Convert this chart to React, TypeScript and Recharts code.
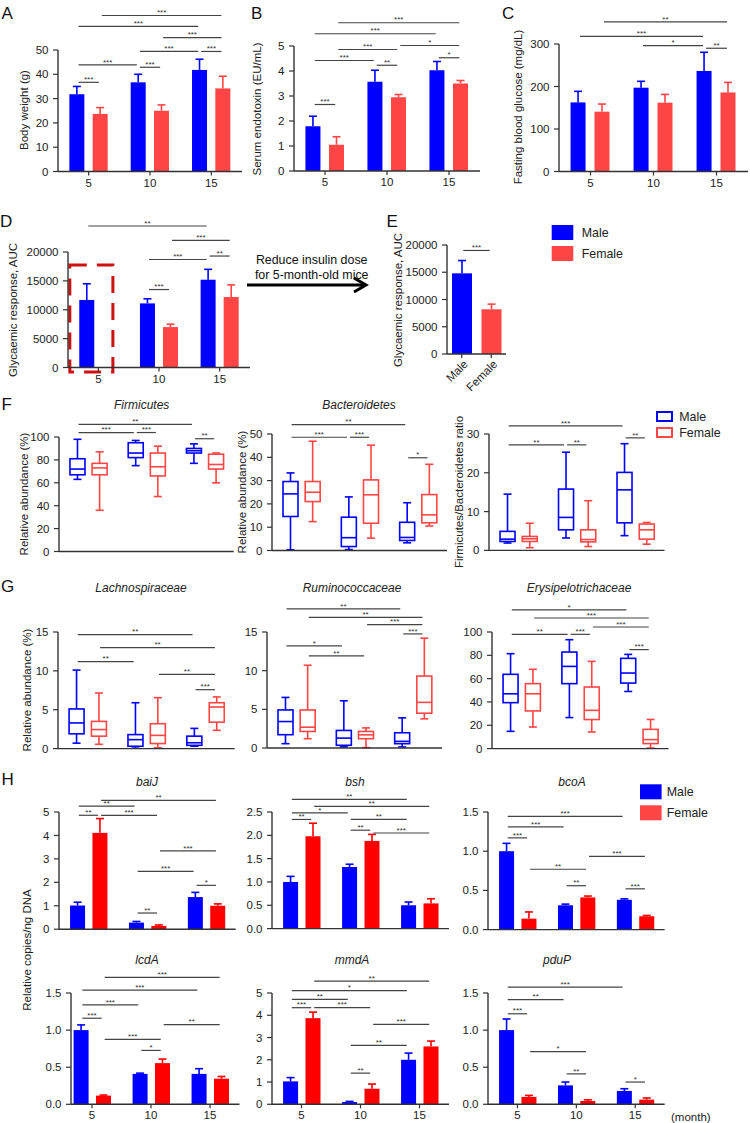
import React from "react";
import { BarChart, Bar, XAxis, YAxis, ReferenceLine, ReferenceArea } from "recharts";

const FONT = "'Liberation Sans', Arial, Helvetica, sans-serif";
const BLUE = "#0000ff";
const PINK = "#ff4545";
const RED = "#ff0000";
const INK = "#333333";
const TXT = "#222222";

type Sig = [string, string, number, string];
type Five = number[]; // min, q1, median, q3, max

const months = ["5", "10", "15"];
const sexes = ["Male", "Female"];

// A body weight (g)
const bwM = [31.8, 36.7, 41.8];
const bwMErr = [3.2, 3.3, 4.4];
const bwF = [23.7, 25.0, 34.2];
const bwFErr = [2.6, 2.4, 5.0];
const bwSig: Sig[] = [["F5", "F15", 64.2, "***"], ["M5", "M15", 59.7, "***"], ["F10", "F15", 55.1, "***"], ["M10", "M15", 49.4, "***"], ["M15", "F15", 49.4, "***"], ["M5", "M10", 43.9, "***"], ["M10", "F10", 42.9, "***"], ["M5", "F5", 36.7, "***"]];

// B serum endotoxin (EU/mL)
const etM = [1.79, 3.57, 4.03];
const etMErr = [0.4, 0.46, 0.35];
const etF = [1.05, 2.95, 3.5];
const etFErr = [0.32, 0.11, 0.12];
const etSig: Sig[] = [["F5", "F15", 5.93, "***"], ["M5", "M15", 5.49, "***"], ["F5", "F10", 4.86, "***"], ["F10", "F15", 5.02, "*"], ["M5", "M10", 4.42, "***"], ["M10", "F10", 4.23, "**"], ["M15", "F15", 4.53, "*"], ["M5", "F5", 2.66, "***"]];

// C fasting blood glucose (mg/dL)
const glM = [162.6, 197.2, 236.5];
const glMErr = [26, 15, 44];
const glF = [140.7, 161.9, 186.1];
const glFErr = [18, 19.5, 23.5];
const glSig: Sig[] = [["F5", "F15", 352, "**"], ["M5", "M15", 318, "***"], ["M10", "M15", 296, "*"], ["M15", "F15", 290, "**"]];

// D glycaemic response AUC
const aucM = [11700, 11100, 15200];
const aucMErr = [2800, 800, 1800];
const aucF = [null, 7000, 12200];
const aucFErr = [0, 500, 2100];
const aucSig: Sig[] = [["M5", "M15", 24500, "**"], ["F10", "F15", 22000, "***"], ["M10", "M15", 18700, "***"], ["M15", "F15", 19300, "**"], ["M10", "F10", 13500, "***"]];

// E reduced insulin dose, 5-month-old
const aucE = [14800, 8200];
const aucEErr = [2350, 950];

// F phyla (box: min, q1, median, q3, max)
const firmM: Five[] = [[63, 67, 72, 81, 98], [75, 82, 86, 95, 97], [77, 86, 88, 90, 94]];
const firmF: Five[] = [[36, 67, 73, 77, 87], [48, 66, 74, 86, 92], [60, 72, 76, 85, 86]];
const firmSig: Sig[] = [["M5", "M15", 111, "**"], ["M5", "M10", 103.9, "***"], ["M10", "F10", 103.9, "***"], ["M15", "F15", 98.5, "**"]];

const bactM: Five[] = [[0.3, 14.6, 24.3, 29.6, 33.3], [0.4, 1.7, 5.5, 14.3, 23], [3.3, 4.3, 5.6, 12.1, 20.5]];
const bactF: Five[] = [[12.4, 21, 25, 29.6, 46.9], [5.3, 11.7, 23.9, 30.3, 45.2], [10.5, 11.9, 15.3, 24, 37]];
const bactSig: Sig[] = [["M5", "M15", 54, "**"], ["M5", "M10", 48.6, "***"], ["M10", "F10", 48.6, "***"], ["M15", "F15", 39.8, "*"]];

const ratioM: Five[] = [[1.9, 2.3, 2.9, 4.9, 14.5], [3.2, 5.3, 8.5, 15.8, 25.3], [3.8, 7.1, 15.6, 20.1, 27.5]];
const ratioF: Five[] = [[0.7, 2.3, 3.0, 3.6, 7], [1, 2.2, 2.8, 5.3, 12.8], [1.6, 2.9, 5.3, 6.8, 7.2]];
const ratioSig: Sig[] = [["M5", "M15", 32.1, "***"], ["M5", "M10", 27.2, "**"], ["M10", "F10", 27.2, "**"], ["M15", "F15", 29, "**"]];

// G families
const lachM: Five[] = [[0.7, 1.9, 3.3, 5.1, 10.1], [0.05, 0.3, 1.15, 1.8, 5.9], [0.3, 0.42, 0.75, 1.6, 2.6]];
const lachF: Five[] = [[0.55, 1.6, 2.45, 3.5, 7.15], [0.1, 0.65, 1.7, 3.2, 6.55], [2.35, 3.4, 5.35, 5.9, 6.65]];
const lachSig: Sig[] = [["M5", "M15", 14.65, "**"], ["F5", "F15", 12.98, "**"], ["M5", "M10", 11.2, "**"], ["F10", "F15", 9.55, "**"], ["M15", "F15", 7.58, "***"]];

const rumiM: Five[] = [[0.56, 1.72, 3.42, 4.92, 6.54], [0.15, 0.35, 1.28, 2.27, 6.1], [0.13, 0.56, 0.86, 1.97, 3.9]];
const rumiF: Five[] = [[1.2, 2.14, 2.69, 4.92, 10.7], [0.05, 1.2, 1.7, 2.14, 2.6], [3.77, 4.5, 5.9, 9.3, 14.2]];
const rumiSig: Sig[] = [["M5", "M15", 18.0, "**"], ["F5", "F15", 16.9, "**"], ["F10", "F15", 15.95, "***"], ["M15", "F15", 14.75, "***"], ["M5", "M10", 13.2, "*"], ["F5", "F10", 11.9, "**"]];

const erysM: Five[] = [[14.8, 39.4, 47, 63.7, 81.4], [26.6, 55.7, 70.5, 82.8, 93.4], [49, 56.2, 64.8, 77.4, 80.8]];
const erysF: Five[] = [[18.5, 32.3, 47, 55.7, 68], [14.3, 24.9, 32.8, 52.8, 74.8], [0.5, 4.3, 7.7, 16.5, 25]];
const erysSig: Sig[] = [["M5", "M15", 119, "*"], ["F5", "F15", 112, "***"], ["F10", "F15", 104.3, "***"], ["M5", "M10", 98, "**"], ["M10", "F10", 98, "***"], ["M15", "F15", 84.9, "***"]];

// H genes, relative copies/ng DNA
const baiM = [1.01, 0.28, 1.37];
const baiMErr = [0.14, 0.05, 0.2];
const baiF = [4.11, 0.14, 1.0];
const baiFErr = [0.61, 0.04, 0.08];
const baiSig: Sig[] = [["F5", "F15", 5.5, "**"], ["M5", "M10", 5.25, "**"], ["M5", "F5", 4.86, "**"], ["F5", "F10", 4.86, "***"], ["F10", "F15", 3.34, "***"], ["M10", "M15", 2.47, "***"], ["M15", "F15", 1.87, "*"], ["M10", "F10", 0.69, "**"]];

const bshM = [1.0, 1.32, 0.5];
const bshMErr = [0.12, 0.06, 0.07];
const bshF = [1.98, 1.88, 0.54];
const bshFErr = [0.28, 0.14, 0.1];
const bshSig: Sig[] = [["M5", "M15", 2.77, "**"], ["F5", "F15", 2.62, "**"], ["M5", "M10", 2.48, "*"], ["M5", "F5", 2.34, "**"], ["M10", "M15", 2.34, "**"], ["M10", "F10", 2.11, "**"], ["F10", "F15", 2.05, "***"]];

const bcoM = [1.0, 0.31, 0.38];
const bcoMErr = [0.1, 0.015, 0.012];
const bcoF = [0.14, 0.41, 0.17];
const bcoFErr = [0.085, 0.018, 0.01];
const bcoSig: Sig[] = [["M5", "M15", 1.445, "***"], ["M5", "M10", 1.31, "***"], ["M5", "F5", 1.17, "***"], ["F10", "F15", 0.935, "***"], ["F5", "F10", 0.77, "**"], ["M10", "F10", 0.56, "**"], ["M15", "F15", 0.52, "***"]];

const lcdM = [1.0, 0.41, 0.41];
const lcdMErr = [0.07, 0.01, 0.07];
const lcdF = [0.117, 0.555, 0.345];
const lcdFErr = [0.008, 0.055, 0.03];
const lcdSig: Sig[] = [["F5", "F15", 1.71, "***"], ["M5", "M15", 1.54, "***"], ["M5", "M10", 1.34, "***"], ["M5", "F5", 1.16, "***"], ["F10", "F15", 1.075, "**"], ["F5", "F10", 0.874, "***"], ["M10", "F10", 0.726, "*"]];

const mmdM = [1.03, 0.1, 2.0];
const mmdMErr = [0.17, 0.03, 0.3];
const mmdF = [3.87, 0.7, 2.6];
const mmdFErr = [0.27, 0.21, 0.24];
const mmdSig: Sig[] = [["F5", "F15", 5.53, "**"], ["M5", "M15", 5.11, "*"], ["M5", "M10", 4.71, "**"], ["M5", "F5", 4.34, "***"], ["F5", "F10", 4.34, "***"], ["F10", "F15", 3.59, "***"], ["M10", "M15", 2.65, "**"], ["M10", "F10", 1.4, "**"]];

const pduM = [1.0, 0.255, 0.18];
const pduMErr = [0.15, 0.045, 0.03];
const pduF = [0.1, 0.045, 0.063];
const pduFErr = [0.02, 0.015, 0.022];
const pduSig: Sig[] = [["M5", "M15", 1.58, "***"], ["M5", "M10", 1.41, "**"], ["M5", "F5", 1.22, "***"], ["F5", "F10", 0.71, "*"], ["M10", "F10", 0.41, "**"], ["M15", "F15", 0.3, "*"]];

// ---------- helpers ----------
const OFF = 0.19;
const xOf = (code: string) => {
  const i = months.indexOf(code.slice(1));
  return i + 0.5 + (code[0] === "M" ? -OFF : OFF);
};
const sigXY = (s: Sig[]): [number, number, number, string][] => s.map((d) => [xOf(d[0]), xOf(d[1]), d[2], d[3]]);

function barRows(m: (number | null)[], me: number[], f: (number | null)[], fe: number[]) {
  const rows: any[] = [];
  months.forEach((mo, i) => {
    if (m[i] != null) rows.push({ x: xOf("M" + mo), v: m[i], e: me[i], sex: "M" });
    if (f[i] != null) rows.push({ x: xOf("F" + mo), v: f[i], e: fe[i], sex: "F" });
  });
  return rows;
}

function boxRows(m: Five[], f: Five[]) {
  const rows: any[] = [];
  months.forEach((mo, i) => {
    const add = (s: string, b: Five) =>
      rows.push({ x: xOf(s + mo), box: [b[1], b[3]], min: b[0], med: b[2], max: b[4], sex: s });
    add("M", m[i]);
    add("F", f[i]);
  });
  return rows;
}

const errBar = (fem: string) => (p: any) => {
  const { x, y, width, height, payload } = p;
  const col = payload.sex === "M" ? BLUE : fem;
  const k = payload.v ? height / payload.v : 0;
  const ty = y - payload.e * k;
  const cx = x + width / 2;
  return (
    <g>
      <line x1={cx} x2={cx} y1={y} y2={ty} stroke={col} strokeWidth={1.6} />
      <line x1={cx - 4} x2={cx + 4} y1={ty} y2={ty} stroke={col} strokeWidth={1.6} />
      <rect x={x} y={y} width={width} height={height} fill={col} />
    </g>
  );
};

const boxShape = (p: any) => {
  const { x, y, width, height, payload } = p;
  const [q1, q3] = payload.box;
  const k = height / (q3 - q1);
  const yv = (v: number) => y + (q3 - v) * k;
  const col = payload.sex === "M" ? BLUE : PINK;
  const cx = x + width / 2;
  return (
    <g stroke={col} strokeWidth={1.6} fill="none">
      <line x1={cx} x2={cx} y1={yv(payload.max)} y2={y} />
      <line x1={cx - 4} x2={cx + 4} y1={yv(payload.max)} y2={yv(payload.max)} />
      <line x1={cx} x2={cx} y1={y + height} y2={yv(payload.min)} />
      <line x1={cx - 4} x2={cx + 4} y1={yv(payload.min)} y2={yv(payload.min)} />
      <rect x={x} y={y} width={width} height={height} fill="#fff" />
      <line x1={x} x2={x + width} y1={yv(payload.med)} y2={yv(payload.med)} />
    </g>
  );
};

const sigShape = (label: string) => (p: any) => (
  <g>
    <line x1={p.x1 + 1.5} x2={p.x2 - 1.5} y1={p.y1} y2={p.y2} stroke="#444" strokeWidth={1.2} />
    <text x={(p.x1 + p.x2) / 2} y={p.y1 - 0.3} textAnchor="middle" fontSize={8} fill={INK} fontFamily={FONT}>
      {label}
    </text>
  </g>
);

const sexTick = (p: any) => (
  <text
    transform={`translate(${p.x + 4} ${p.y + 1}) rotate(-45)`}
    textAnchor="end"
    dy="0.35em"
    fontSize={11.5}
    fill={TXT}
    fontFamily={FONT}
  >
    {sexes[Math.floor(p.payload.value)]}
  </text>
);

type Frame = { ax: number; end: number; top: number; zero: number; xMin?: number; xMax?: number };

function Panel(props: {
  f: Frame;
  rows: any[];
  dataKey: string;
  shape: any;
  barSize?: number;
  yMax: number;
  yTicks: number[];
  yFmt?: (v: number) => string;
  xTicks?: number[];
  labels?: boolean;
  xTick?: any;
  xH?: number;
  sigs: [number, number, number, string][];
  room: number;
  children?: React.ReactNode;
}) {
  const { f } = props;
  const YW = 50;
  const MR = 2;
  const XH = props.xH ?? (props.labels ? 20 : 8);
  const w = f.end - f.ax + YW + MR;
  const h = f.zero - f.top + props.room + XH + 2;
  const tickStyle = { fontSize: 11.5, fill: TXT, fontFamily: FONT };
  return (
    <div style={{ position: "absolute", left: f.ax - YW, top: f.top - props.room }}>
      <BarChart width={w} height={h} data={props.rows} margin={{ top: props.room, right: MR, bottom: 2, left: 0 }}>
        <XAxis
          type="number"
          dataKey="x"
          domain={[f.xMin ?? 0, f.xMax ?? 3]}
          ticks={props.xTicks ?? [0.5, 1.5, 2.5]}
          interval={0}
          height={XH}
          axisLine={{ stroke: INK, strokeWidth: 1.4 }}
          tickLine={{ stroke: INK, strokeWidth: 1.2 }}
          tickSize={4}
          tickMargin={3}
          tick={props.xTick ?? (props.labels ? tickStyle : false)}
          tickFormatter={(v: number) => months[Math.floor(v)]}
        />
        <YAxis
          type="number"
          domain={[0, props.yMax]}
          ticks={props.yTicks}
          interval={0}
          width={YW}
          axisLine={{ stroke: INK, strokeWidth: 1.4 }}
          tickLine={{ stroke: INK, strokeWidth: 1.2 }}
          tickSize={5}
          tickMargin={4.5}
          tick={tickStyle}
          tickFormatter={props.yFmt ?? ((v: number) => String(v))}
        />
        <Bar dataKey={props.dataKey} barSize={props.barSize ?? 15} shape={props.shape} isAnimationActive={false} />
        {props.children}
        {props.sigs.map((s, i) => (
          <ReferenceLine
            key={i}
            segment={[{ x: s[0], y: s[2] }, { x: s[1], y: s[2] }]}
            ifOverflow="visible"
            shape={sigShape(s[3])}
          />
        ))}
      </BarChart>
    </div>
  );
}

const dec1 = (v: number) => v.toFixed(1);

function Overlay() {
  const letter = (ch: string, x: number, y: number) => (
    <text x={x} y={y} fontSize={17} fill="#111">{ch}</text>
  );
  const yLab = (s: string, x: number, y: number) => (
    <text transform={`translate(${x} ${y}) rotate(-90)`} textAnchor="middle" dominantBaseline="central" fontSize={11.5} fill={TXT}>{s}</text>
  );
  const title = (s: string, x: number, y: number) => (
    <text x={x} y={y} textAnchor="middle" fontStyle="italic" fontSize={12} fill={TXT}>{s}</text>
  );
  const legend = (x: number, y: number, tx: number, filled: boolean, fem: string) => (
    <g>
      {filled ? (
        <>
          <rect x={x} y={y} width={21.6} height={15} fill={BLUE} />
          <rect x={x} y={y + 21} width={21.6} height={15} fill={fem} />
        </>
      ) : (
        <>
          <rect x={x} y={y} width={15} height={9} fill="none" stroke={BLUE} strokeWidth={2} />
          <rect x={x} y={y + 16} width={15} height={9} fill="none" stroke={PINK} strokeWidth={2} />
        </>
      )}
      <text x={tx} y={filled ? y + 12 : y + 8.5} fontSize={12.4} fill={TXT}>Male</text>
      <text x={tx} y={filled ? y + 33 : y + 24.5} fontSize={12.4} fill={TXT}>Female</text>
    </g>
  );
  return (
    <svg width={750} height={1123} style={{ position: "absolute", left: 0, top: 0 }} fontFamily={FONT}>
      {letter("A", 1.5, 18.5)}
      {letter("B", 251, 18.5)}
      {letter("C", 502, 18.5)}
      {letter("D", 0, 227)}
      {letter("E", 386.5, 227)}
      {letter("F", 1.5, 410)}
      {letter("G", 1, 592)}
      {letter("H", 1.5, 785)}

      {yLab("Body weight (g)", 24, 110)}
      {yLab("Serum endotoxin (EU/mL)", 257, 109)}
      {yLab("Fasting blood glucose (mg/dL)", 518, 107)}
      {yLab("Glycaemic response, AUC", 13, 310)}
      {yLab("Glycaemic response, AUC", 398, 300)}
      {yLab("Relative abundance (%)", 24, 494)}
      {yLab("Relative abundance (%)", 242, 492)}
      {yLab("Firmicutes/Bacteroidetes ratio", 459, 492)}
      {yLab("Relative abundance (%)", 27, 690)}
      {yLab("Relative copies/ng DNA", 27, 950)}

      {title("Firmicutes", 141.7, 409)}
      {title("Bacteroidetes", 359, 409)}
      {title("Lachnospiraceae", 141, 592)}
      {title("Ruminococcaceae", 352, 592)}
      {title("Erysipelotrichaceae", 579, 592)}
      {title("baiJ", 147, 786)}
      {title("bsh", 355, 786)}
      {title("bcoA", 572, 786)}
      {title("lcdA", 147, 963.5)}
      {title("mmdA", 352, 963.5)}
      {title("pduP", 557, 963.5)}

      {legend(551.7, 225, 581.7, true, PINK)}
      {legend(657, 412, 679.3, false, PINK)}
      {legend(640, 784.3, 666.7, true, PINK)}

      <text x={311.7} y={264.3} textAnchor="middle" fontSize={12.4} fill="#111">Reduce insulin dose</text>
      <text x={311.7} y={278.6} textAnchor="middle" fontSize={12.4} fill="#111">for 5-month-old mice</text>
      <line x1={247} x2={365} y1={285} y2={285} stroke="#000" strokeWidth={3} />
      <polyline points="354,278 366,285 354,292" fill="none" stroke="#000" strokeWidth={3} />

      <text x={671} y={1120.5} fontSize={11.5} fill={TXT}>(month)</text>
    </svg>
  );
}

export default function App() {
  return (
    <div style={{ position: "absolute", left: 0, top: 0, width: 750, height: 1123, overflow: "hidden", background: "#fff", fontFamily: FONT }}>
      <Overlay />

      <Panel f={{ ax: 58, end: 242, top: 49.5, zero: 171 }} rows={barRows(bwM, bwMErr, bwF, bwFErr)} dataKey="v" shape={errBar(PINK)}
        yMax={50} yTicks={[0, 10, 20, 30, 40, 50]} labels sigs={sigXY(bwSig)} room={46} />
      <Panel f={{ ax: 294, end: 480, top: 46, zero: 171 }} rows={barRows(etM, etMErr, etF, etFErr)} dataKey="v" shape={errBar(PINK)}
        yMax={5} yTicks={[0, 1, 2, 3, 4, 5]} labels sigs={sigXY(etSig)} room={40} />
      <Panel f={{ ax: 559, end: 748, top: 43.5, zero: 171 }} rows={barRows(glM, glMErr, glF, glFErr)} dataKey="v" shape={errBar(PINK)}
        yMax={300} yTicks={[0, 100, 200, 300]} labels sigs={sigXY(glSig)} room={36} />

      <Panel f={{ ax: 68, end: 250, top: 252, zero: 367.5 }} rows={barRows(aucM, aucMErr, aucF, aucFErr)} dataKey="v" shape={errBar(PINK)}
        yMax={20000} yTicks={[0, 5000, 10000, 15000, 20000]} labels sigs={sigXY(aucSig)} room={34}>
        <ReferenceArea x1={0.03} x2={0.74} y1={-800} y2={17750} ifOverflow="visible" fill="none" fillOpacity={0}
          stroke="#cc1111" strokeWidth={3} strokeDasharray="17 10" />
      </Panel>
      <Panel f={{ ax: 446.7, end: 505.7, top: 245.3, zero: 354.3, xMax: 2 }}
        rows={sexes.map((s, i) => ({ x: i + 0.5, v: aucE[i], e: aucEErr[i], sex: s[0] }))}
        dataKey="v" shape={errBar(PINK)} barSize={20} yMax={20000} yTicks={[0, 5000, 10000, 15000, 20000]}
        xTicks={[0.5, 1.5]} xTick={sexTick} xH={46} sigs={[[0.5, 1.5, 19000, "***"]]} room={30} />

      <Panel f={{ ax: 59.3, end: 234, top: 436.5, zero: 551 }} rows={boxRows(firmM, firmF)} dataKey="box" shape={boxShape}
        yMax={100} yTicks={[0, 20, 40, 60, 80, 100]} sigs={sigXY(firmSig)} room={24} />
      <Panel f={{ ax: 272, end: 447, top: 433.5, zero: 550 }} rows={boxRows(bactM, bactF)} dataKey="box" shape={boxShape}
        yMax={50} yTicks={[0, 10, 20, 30, 40, 50]} sigs={sigXY(bactSig)} room={24} />
      <Panel f={{ ax: 488.5, end: 664, top: 434.3, zero: 550.7 }} rows={boxRows(ratioM, ratioF)} dataKey="box" shape={boxShape}
        yMax={30} yTicks={[0, 10, 20, 30]} sigs={sigXY(ratioSig)} room={24} />

      <Panel f={{ ax: 58.3, end: 235, top: 631.7, zero: 748.3 }} rows={boxRows(lachM, lachF)} dataKey="box" shape={boxShape}
        yMax={15} yTicks={[0, 5, 10, 15]} sigs={sigXY(lachSig)} room={24} />
      <Panel f={{ ax: 267, end: 442, top: 631.7, zero: 747.7 }} rows={boxRows(rumiM, rumiF)} dataKey="box" shape={boxShape}
        yMax={15} yTicks={[0, 5, 10, 15]} sigs={sigXY(rumiSig)} room={34} />
      <Panel f={{ ax: 492, end: 668.5, top: 631.7, zero: 748.3 }} rows={boxRows(erysM, erysF)} dataKey="box" shape={boxShape}
        yMax={100} yTicks={[0, 20, 40, 60, 80, 100]} sigs={sigXY(erysSig)} room={34} />

      <Panel f={{ ax: 59.3, end: 236, top: 812.3, zero: 929.5 }} rows={barRows(baiM, baiMErr, baiF, baiFErr)} dataKey="v" shape={errBar(RED)}
        yMax={5} yTicks={[0, 1, 2, 3, 4, 5]} sigs={sigXY(baiSig)} room={22} />
      <Panel f={{ ax: 272, end: 449, top: 811.7, zero: 928.3 }} rows={barRows(bshM, bshMErr, bshF, bshFErr)} dataKey="v" shape={errBar(RED)}
        yMax={2.5} yTicks={[0, 0.5, 1, 1.5, 2, 2.5]} yFmt={dec1} sigs={sigXY(bshSig)} room={22} />
      <Panel f={{ ax: 488.3, end: 665, top: 811.7, zero: 929.3 }} rows={barRows(bcoM, bcoMErr, bcoF, bcoFErr)} dataKey="v" shape={errBar(RED)}
        yMax={1.5} yTicks={[0, 0.5, 1, 1.5]} yFmt={dec1} sigs={sigXY(bcoSig)} room={22} />

      <Panel f={{ ax: 71, end: 239.5, top: 992.7, zero: 1104, xMin: 0.144 }} rows={barRows(lcdM, lcdMErr, lcdF, lcdFErr)} dataKey="v" shape={errBar(RED)}
        yMax={1.5} yTicks={[0, 0.5, 1, 1.5]} yFmt={dec1} labels sigs={sigXY(lcdSig)} room={24} />
      <Panel f={{ ax: 272, end: 449, top: 992.7, zero: 1104 }} rows={barRows(mmdM, mmdMErr, mmdF, mmdFErr)} dataKey="v" shape={errBar(RED)}
        yMax={5} yTicks={[0, 1, 2, 3, 4, 5]} labels sigs={sigXY(mmdSig)} room={22} />
      <Panel f={{ ax: 488.3, end: 665, top: 992.7, zero: 1104 }} rows={barRows(pduM, pduMErr, pduF, pduFErr)} dataKey="v" shape={errBar(RED)}
        yMax={1.5} yTicks={[0, 0.5, 1, 1.5]} yFmt={dec1} labels sigs={sigXY(pduSig)} room={22} />
    </div>
  );
}
